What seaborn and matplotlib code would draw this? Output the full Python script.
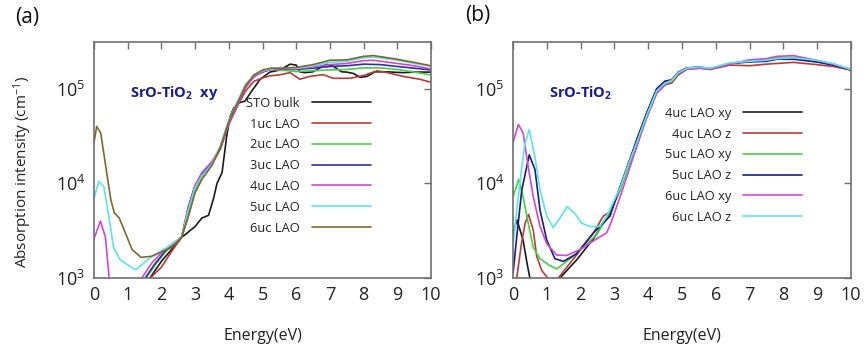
import numpy as np
import pandas as pd
import seaborn as sns
import matplotlib.pyplot as plt
from matplotlib.ticker import NullLocator

sns.set_style('white')
# fonts have to be set after seaborn style
plt.rcParams['font.family'] = ['Open Sans', 'DejaVu Sans']
plt.rcParams['mathtext.fontset'] = 'custom'
plt.rcParams['mathtext.rm'] = 'Open Sans'
plt.rcParams['mathtext.bf'] = 'Open Sans:bold'
plt.rcParams['mathtext.default'] = 'regular'

# ---------------- panel (a): SrO-TiO2 xy ----------------
sto_e = [1.5, 1.66, 2.0, 2.3, 2.61, 3.0, 3.2, 3.4, 3.55, 3.65, 3.8, 3.94, 4.04, 4.15, 4.3, 4.48, 4.63, 4.93,
         5.22, 5.52, 5.82, 6.0, 6.11, 6.26, 6.5, 6.7, 6.9, 7.1, 7.35, 7.5, 7.7, 7.9, 8.1, 8.34, 8.68, 9.18, 9.5, 10.0]
sto_a = [800, 1000, 1500, 2000, 2700, 3500, 4300, 4600, 7000, 1.0e4, 1.3e4, 3.2e4, 5.1e4, 6.3e4, 7.1e4, 7.4e4,
         8.9e4, 1.26e5, 1.5e5, 1.58e5, 1.82e5, 1.78e5, 1.51e5, 1.48e5, 1.51e5, 1.66e5, 1.82e5, 1.73e5, 1.51e5,
         1.5e5, 1.45e5, 1.32e5, 1.35e5, 1.51e5, 1.51e5, 1.48e5, 1.5e5, 1.5e5]

uc1_e = [1.4, 1.67, 2.0, 2.3, 2.6, 2.8, 3.0, 3.2, 3.5, 3.75, 4.0, 4.25, 4.5, 4.75, 5.0, 5.22, 5.5, 5.82, 6.11,
         6.4, 6.8, 7.1, 7.6, 8.0, 8.4, 8.7, 9.18, 9.67, 10.0]
uc1_a = [800, 1000, 1300, 1900, 2700, 4500, 8500, 1.2e4, 1.6e4, 2.3e4, 4.2e4, 6.5e4, 9.5e4, 1.2e5, 1.3e5,
         1.37e5, 1.4e5, 1.48e5, 1.26e5, 1.35e5, 1.41e5, 1.29e5, 1.29e5, 1.38e5, 1.55e5, 1.48e5, 1.35e5, 1.26e5, 1.17e5]

uc2_e = [1.3, 1.55, 1.8, 2.1, 2.35, 2.6, 2.8, 3.0, 3.2, 3.5, 3.75, 4.0, 4.25, 4.5, 4.75, 5.0, 5.25, 5.5, 6.0,
         6.5, 7.0, 7.5, 8.0, 8.5, 9.0, 9.5, 10.0]
uc2_a = [800, 1000, 1350, 1850, 2300, 2700, 5000, 8800, 1.2e4, 1.6e4, 2.45e4, 4.6e4, 7.2e4, 1.1e5, 1.4e5,
         1.55e5, 1.6e5, 1.58e5, 1.52e5, 1.55e5, 1.58e5, 1.6e5, 1.66e5, 1.66e5, 1.6e5, 1.5e5, 1.4e5]

uc3_e = [1.3, 1.52, 1.8, 2.1, 2.35, 2.6, 2.8, 3.0, 3.2, 3.5, 3.75, 4.0, 4.25, 4.5, 4.75, 5.0, 5.25, 5.5, 6.0,
         6.5, 7.0, 7.5, 8.0, 8.5, 9.0, 9.5, 10.0]
uc3_a = [800, 1000, 1400, 1900, 2300, 2700, 5700, 9500, 1.25e4, 1.65e4, 2.4e4, 4.4e4, 6.8e4, 1.05e5, 1.35e5,
         1.5e5, 1.6e5, 1.62e5, 1.6e5, 1.65e5, 1.72e5, 1.75e5, 1.82e5, 1.8e5, 1.72e5, 1.65e5, 1.58e5]

uc4_e = [0.0, 0.19, 0.34, 0.45, 0.55, 1.0, 1.3, 1.42, 1.72, 2.1, 2.35, 2.6, 2.8, 3.0, 3.2, 3.5, 3.75, 4.0, 4.25,
         4.5, 4.75, 5.0, 5.25, 5.5, 6.0, 6.5, 7.0, 7.5, 8.0, 8.3, 9.0, 9.5, 10.0]
uc4_a = [2600, 4000, 2700, 1000, 700, 500, 800, 1000, 1450, 2000, 2300, 2700, 5500, 9500, 1.3e4, 1.7e4, 2.4e4,
         4.3e4, 6.7e4, 1.03e5, 1.35e5, 1.52e5, 1.6e5, 1.62e5, 1.62e5, 1.7e5, 1.8e5, 1.85e5, 1.98e5, 2.0e5,
         1.85e5, 1.75e5, 1.62e5]

uc5_e = [0.0, 0.14, 0.29, 0.44, 0.58, 0.78, 0.93, 1.23, 1.42, 1.72, 2.12, 2.35, 2.6, 2.8, 3.0, 3.2, 3.5, 3.75,
         4.0, 4.25, 4.5, 4.75, 5.0, 5.25, 5.5, 6.0, 6.5, 7.0, 7.5, 8.0, 8.3, 9.0, 9.5, 10.0]
uc5_a = [6900, 1.05e4, 9300, 4500, 2100, 1550, 1430, 1220, 1380, 1700, 2050, 2350, 2700, 5200, 9000, 1.2e4,
         1.6e4, 2.5e4, 4.6e4, 7.2e4, 1.1e5, 1.4e5, 1.55e5, 1.62e5, 1.65e5, 1.65e5, 1.75e5, 1.9e5, 1.95e5,
         2.12e5, 2.16e5, 2.0e5, 1.85e5, 1.73e5]

uc6_e = [0.0, 0.08, 0.2, 0.35, 0.5, 0.6, 0.75, 0.93, 1.13, 1.4, 1.72, 2.02, 2.3, 2.6, 2.8, 3.0, 3.2, 3.5, 3.75,
         4.0, 4.25, 4.5, 4.75, 5.0, 5.25, 5.5, 6.0, 6.5, 7.0, 7.5, 8.0, 8.3, 9.0, 9.5, 10.0]
uc6_a = [2.7e4, 4.0e4, 3.4e4, 1.5e4, 6700, 4900, 4300, 3000, 2000, 1650, 1700, 1900, 2100, 2700, 4500, 8000,
         1.1e4, 1.55e4, 2.4e4, 4.5e4, 7.0e4, 1.08e5, 1.4e5, 1.58e5, 1.65e5, 1.65e5, 1.68e5, 1.8e5, 2.0e5,
         2.02e5, 2.2e5, 2.24e5, 2.05e5, 1.9e5, 1.75e5]

labels_a = ['STO bulk', '1uc LAO', '2uc LAO', '3uc LAO', '4uc LAO', '5uc LAO', '6uc LAO']
colors_a = ['#1a1a1a', '#b83c3c', '#45d045', '#3030a0', '#d048d0', '#5ae6e6', '#7c6a2c']

# ---------------- panel (b): SrO-TiO2 ----------------
xy4_e = [0.0, 0.12, 0.3, 0.42, 0.5, 0.6, 1.0, 1.3, 1.39, 1.88, 2.38, 2.67, 2.87, 3.17, 3.46, 3.66, 3.96, 4.25,
         4.5, 4.7, 4.89, 5.14, 5.53, 5.83, 6.42, 7.0, 7.5, 7.8, 8.3, 8.98, 9.47, 10.0]
xy4_a = [3000, 4100, 2500, 1400, 1000, 700, 500, 800, 1000, 1550, 2600, 3800, 4800, 9000, 1.75e4, 2.8e4, 5.5e4,
         9.8e4, 1.2e5, 1.22e5, 1.45e5, 1.65e5, 1.68e5, 1.62e5, 1.85e5, 1.95e5, 2.0e5, 2.1e5, 2.1e5, 1.95e5,
         1.8e5, 1.58e5]

z4_e = [0.0, 0.11, 0.25, 0.36, 0.46, 0.6, 0.7, 0.85, 1.0, 1.1, 1.25, 1.34, 1.88, 2.38, 2.67, 2.87, 3.17, 3.46,
        3.66, 3.96, 4.25, 4.5, 4.7, 4.89, 5.14, 5.53, 5.83, 6.42, 7.0, 7.5, 7.8, 8.3, 8.98, 9.47, 10.0]
z4_a = [500, 1000, 2300, 3800, 4700, 3200, 1700, 1200, 1030, 900, 850, 1000, 1750, 3000, 4500, 5000, 8500,
        1.8e4, 2.6e4, 5.0e4, 9.0e4, 1.1e5, 1.15e5, 1.4e5, 1.6e5, 1.65e5, 1.6e5, 1.78e5, 1.75e5, 1.82e5,
        1.85e5, 1.9e5, 1.8e5, 1.72e5, 1.58e5]

xy5_e = [0.0, 0.17, 0.3, 0.45, 0.6, 0.8, 1.09, 1.3, 1.69, 2.08, 2.48, 2.77, 3.17, 3.46, 3.66, 3.96, 4.25, 4.5,
         4.7, 4.89, 5.14, 5.53, 5.83, 6.42, 7.0, 7.5, 7.8, 8.3, 8.98, 9.47, 10.0]
xy5_a = [7200, 1.1e4, 7200, 3800, 2100, 1600, 1350, 1250, 1600, 2100, 2900, 4300, 8500, 1.6e4, 2.5e4, 5.0e4,
         9.0e4, 1.12e5, 1.2e5, 1.45e5, 1.63e5, 1.68e5, 1.62e5, 1.85e5, 1.98e5, 2.02e5, 2.12e5, 2.15e5, 1.98e5,
         1.82e5, 1.6e5]

z5_e = [0.0, 0.1, 0.26, 0.48, 0.65, 0.8, 1.0, 1.24, 1.49, 1.88, 2.38, 2.87, 3.17, 3.46, 3.66, 3.96, 4.25, 4.5,
        4.7, 4.89, 5.14, 5.53, 5.83, 6.42, 7.0, 7.5, 7.8, 8.3, 8.98, 9.47, 10.0]
z5_a = [1100, 2500, 8500, 2.0e4, 1.4e4, 5200, 2500, 1600, 1500, 1800, 3000, 4500, 9300, 1.8e4, 2.9e4, 5.6e4,
        1.0e5, 1.2e5, 1.25e5, 1.5e5, 1.66e5, 1.7e5, 1.62e5, 1.85e5, 1.92e5, 1.95e5, 2.05e5, 2.05e5, 1.92e5,
        1.78e5, 1.58e5]

xy6_e = [0.0, 0.16, 0.3, 0.45, 0.6, 0.8, 1.0, 1.29, 1.59, 1.98, 2.48, 2.77, 2.87, 3.17, 3.56, 3.96, 4.25, 4.5,
         4.64, 4.89, 5.14, 5.53, 5.83, 6.42, 7.0, 7.5, 7.8, 8.3, 8.98, 9.47, 10.0]
xy6_a = [2.7e4, 4.2e4, 3.4e4, 1.5e4, 7200, 3500, 2300, 1750, 1730, 2000, 2600, 3000, 3600, 7200, 1.9e4, 5.1e4,
         9.0e4, 1.12e5, 1.2e5, 1.45e5, 1.62e5, 1.65e5, 1.62e5, 1.82e5, 2.02e5, 2.08e5, 2.2e5, 2.24e5, 2.0e5,
         1.82e5, 1.6e5]

z6_e = [0.0, 0.2, 0.35, 0.48, 0.65, 0.8, 1.0, 1.19, 1.39, 1.6, 1.83, 2.03, 2.28, 2.57, 2.77, 3.17, 3.46, 3.66,
        3.96, 4.25, 4.5, 4.7, 4.89, 5.14, 5.53, 5.83, 6.42, 7.0, 7.5, 7.8, 8.3, 8.98, 9.47, 10.0]
z6_a = [2200, 1.0e4, 2.6e4, 3.7e4, 1.9e4, 8500, 4500, 3400, 4300, 5700, 4800, 3800, 3500, 3500, 4500, 9000,
        1.75e4, 2.7e4, 5.3e4, 9.5e4, 1.15e5, 1.22e5, 1.48e5, 1.65e5, 1.7e5, 1.65e5, 1.88e5, 1.95e5, 2.0e5,
        2.08e5, 2.12e5, 2.0e5, 1.85e5, 1.6e5]

labels_b = ['4uc LAO xy', '4uc LAO z', '5uc LAO xy', '5uc LAO z', '6uc LAO xy', '6uc LAO z']
colors_b = ['#1a1a1a', '#b83c3c', '#45d045', '#1c1c80', '#d048d0', '#5ae6e6']

y_ticks = [1e3, 1e4, 1e5]
y_ticklabels = ['$10^3$', '$10^4$', '$10^5$']
x_ticks = list(range(11))


def make_df(curves, labels):
    '''stack the (energy, absorption) pairs into one long dataframe'''
    frames = []
    for (e, a), lab in zip(curves, labels):
        frames.append(pd.DataFrame({'energy': e, 'absorption': a, 'sample': lab}))
    return pd.concat(frames, ignore_index=True)


df_a = make_df([(sto_e, sto_a), (uc1_e, uc1_a), (uc2_e, uc2_a), (uc3_e, uc3_a),
                (uc4_e, uc4_a), (uc5_e, uc5_a), (uc6_e, uc6_a)], labels_a)
df_b = make_df([(xy4_e, xy4_a), (z4_e, z4_a), (xy5_e, xy5_a), (z5_e, z5_a),
                (xy6_e, xy6_a), (z6_e, z6_a)], labels_b)

W, H = 866, 351
fig = plt.figure(figsize=(W/100, H/100), dpi=100)
ax_a = fig.add_axes([94/W, 1-278/H, 337/W, 236/H])
ax_b = fig.add_axes([513/W, 1-278/H, 338/W, 236/H])

for ax, df, labels, colors, title, leg_xy in [
        (ax_a, df_a, labels_a, colors_a, r'SrO-TiO$_\mathbf{2}$  xy', (371, 97)),
        (ax_b, df_b, labels_b, colors_b, r'SrO-TiO$_\mathbf{2}$', (802, 107))]:
    sns.lineplot(data=df, x='energy', y='absorption', hue='sample', hue_order=labels,
                 palette=dict(zip(labels, colors)), estimator=None, sort=False,
                 lw=1.2, legend=False, ax=ax)
    ax.set_yscale('log')
    ax.set_xlim(0, 10)
    ax.set_ylim(1e3, 3.12e5)
    ax.set_xticks(x_ticks)
    ax.set_yticks(y_ticks)
    ax.set_yticklabels(y_ticklabels)
    ax.yaxis.set_minor_locator(NullLocator())
    ax.tick_params(direction='in', top=True, right=True, length=5, width=1,
                   color='#707070', labelsize=13, labelcolor='#222222', pad=6)
    for s in ax.spines.values():
        s.set_color('#707070')
        s.set_linewidth(1.2)
    ax.set_xlabel('Energy(eV)', fontsize=11.5, color='#222222', labelpad=17)
    ax.set_ylabel('')

    # label of the panel
    ax.text(1.07, 10**4.95, title, fontsize=10.5, fontweight='bold', color='#1c1c8c',
            va='center', ha='left')

    # legend, text on the left and line on the right like gnuplot
    ax.legend(handles=ax.get_lines(), labels=labels, loc='upper right',
              bbox_to_anchor=(leg_xy[0]/W, 1-leg_xy[1]/H), bbox_transform=fig.transFigure,
              frameon=False, markerfirst=False, fontsize=9.3, handlelength=4.6,
              handletextpad=0.9, labelspacing=0.6, borderpad=0, borderaxespad=0,
              labelcolor='#222222')

fig.text(23/W, 1-172/H, 'Absorption intensity (cm$^{-1}$)', rotation=90, fontsize=11,
         color='#222222', ha='center', va='center')
fig.text(15/W, 1-18/H, '(a)', fontsize=15, color='#111111', ha='left', va='center')
fig.text(465/W, 1-16/H, '(b)', fontsize=15, color='#111111', ha='left', va='center')

plt.savefig('out.png', dpi=100)
